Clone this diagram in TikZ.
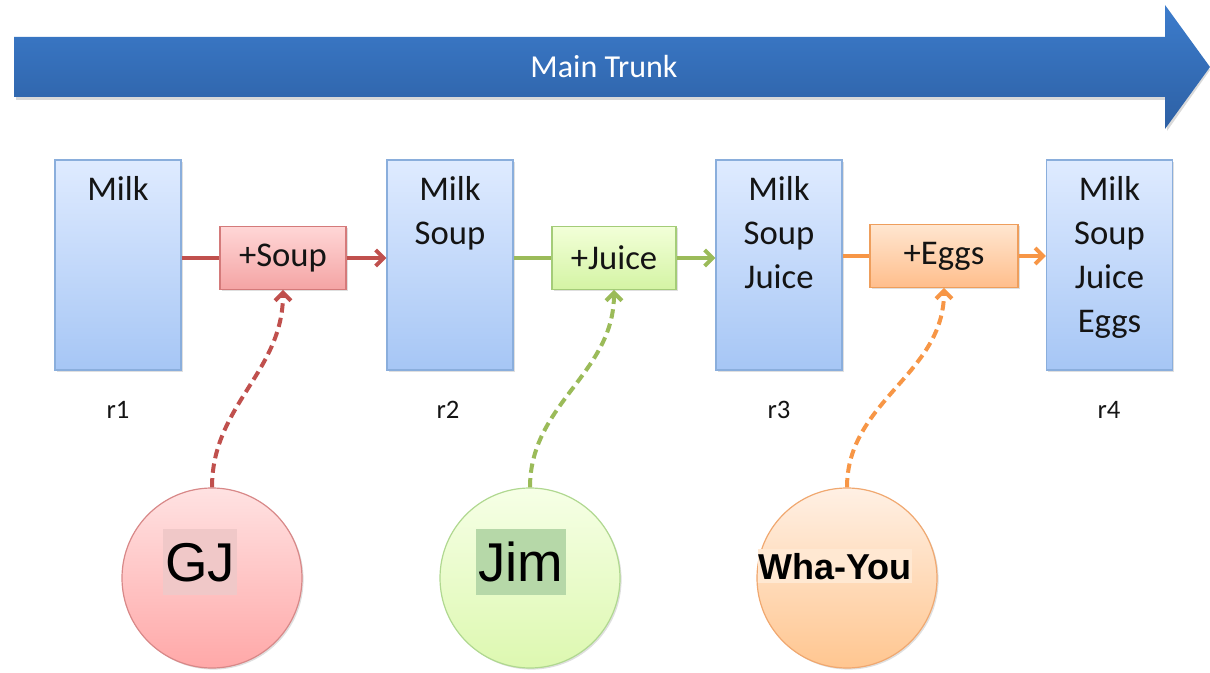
\documentclass[tikz,border=0pt]{standalone}
\usepackage{fontspec}
\setmainfont{Carlito}
\newfontfamily\arialfont{Liberation Sans}
\usetikzlibrary{arrows.meta,shadows}
\definecolor{trunkA}{HTML}{3C7CCC}
\definecolor{trunkB}{HTML}{2D60A4}
\definecolor{boxTop}{HTML}{DFEBFF}
\definecolor{boxBot}{HTML}{A6C6F5}
\definecolor{boxBd}{HTML}{8AAEDC}
\definecolor{redTop}{HTML}{FFD6D6}
\definecolor{redBot}{HTML}{F4A4A4}
\definecolor{redBd}{HTML}{D47A7A}
\definecolor{grnTop}{HTML}{F2FFD8}
\definecolor{grnBot}{HTML}{D4F4A4}
\definecolor{grnBd}{HTML}{A4CC78}
\definecolor{orgTop}{HTML}{FFE6D0}
\definecolor{orgBot}{HTML}{FFBE8C}
\definecolor{orgBd}{HTML}{EE9E5C}
\definecolor{redC}{HTML}{C0504D}
\definecolor{grnC}{HTML}{9BBB59}
\definecolor{orgC}{HTML}{F79646}
\definecolor{rcTop}{HTML}{FFE2E2}
\definecolor{rcBot}{HTML}{FFA8A8}
\definecolor{rcBd}{HTML}{D88888}
\definecolor{gcTop}{HTML}{F6FFE6}
\definecolor{gcBot}{HTML}{DDF8B0}
\definecolor{gcBd}{HTML}{B0D890}
\definecolor{ocTop}{HTML}{FFF0E4}
\definecolor{ocBot}{HTML}{FFC690}
\definecolor{ocBd}{HTML}{F0A870}
\definecolor{gjBg}{HTML}{F0C8C8}
\definecolor{jimBg}{HTML}{B6D8A8}
\definecolor{whaBg}{HTML}{FFE8D2}
\definecolor{ink}{HTML}{141414}
\tikzset{
  shad/.style={drop shadow={opacity=0.25,shadow xshift=1.2pt,shadow yshift=-1.2pt}},
  bluebox/.style={draw=boxBd,line width=0.8pt,top color=boxTop,bottom color=boxBot,
    minimum width=94.5pt,minimum height=157.5pt,inner sep=0pt,shad},
  boxtext/.style={font=\fontsize{26}{33}\selectfont,text=ink,align=center,inner sep=0pt,anchor=north},
  smallbox/.style={line width=0.8pt,minimum height=47pt,inner sep=0pt,
    font=\fontsize{26}{30}\selectfont,text=ink,shad},
  redbox/.style={smallbox,draw=redBd,top color=redTop,bottom color=redBot},
  grnbox/.style={smallbox,draw=grnBd,top color=grnTop,bottom color=grnBot},
  orgbox/.style={smallbox,draw=orgBd,top color=orgTop,bottom color=orgBot},
  rlabel/.style={font=\fontsize{20}{22}\selectfont,text=ink,inner sep=0pt},
  tip/.style={-{Straight Barb[length=6pt,width=12pt]}},
  conn/.style={line width=3pt},
  dconn/.style={line width=3pt,dash pattern=on 7pt off 4pt,tip},
  person/.style={circle,minimum size=135pt,line width=0.9pt,inner sep=0pt,shad},
  ptext/.style={font=\arialfont\fontsize{41}{44}\selectfont,inner sep=0pt,text depth=0pt},
}
\begin{document}
\begin{tikzpicture}[x=0.75pt,y=-0.75pt]
\useasboundingbox (0,0) rectangle (1210,673);
% main trunk arrow
\fill[black,opacity=0.15] (16,40) -- (1167,40) -- (1167,8) -- (1210,70) -- (1167,131) -- (1167,100) -- (16,100) -- cycle;
\shade[top color=trunkA,bottom color=trunkB] (14,37) -- (1165,37) -- (1165,5) -- (1210,67) -- (1165,129) -- (1165,97) -- (14,97) -- cycle;
\node[font=\fontsize{24}{28}\selectfont,text=white,inner sep=0pt] (trunk) at (604,67) {Main Trunk};
% revision boxes
\node[bluebox] (b1) at (118,265) {};
\node[bluebox] (b2) at (450,265) {};
\node[bluebox] (b3) at (779,265) {};
\node[bluebox] (b4) at (1109.5,265) {};
\node[boxtext] (t1) at (118,176) {Milk};
\node[boxtext] (t2) at (450,176) {Milk\\Soup};
\node[boxtext] (t3) at (779,176) {Milk\\Soup\\Juice};
\node[boxtext] (t4) at (1109.5,176) {Milk\\Soup\\Juice\\Eggs};
% labels
\node[rlabel] (r1) at (118,410) {r1};
\node[rlabel] (r2) at (448,410) {r2};
\node[rlabel] (r3) at (779,410) {r3};
\node[rlabel] (r4) at (1109,410) {r4};
% change boxes
\node[redbox,minimum width=94.5pt] (s1) at (283,258) {+Soup};
\node[grnbox,minimum width=93pt] (s2) at (614,258) {+Juice};
\node[orgbox,minimum width=111pt] (s3) at (944,256) {+Eggs};
% connectors
\draw[conn,redC] (b1.east |- s1.west) -- (s1.west);
\draw[conn,redC,tip] (s1.east) -- (b2.west |- s1.east);
\draw[conn,grnC] (b2.east |- s2.west) -- (s2.west);
\draw[conn,grnC,tip] (s2.east) -- (b3.west |- s2.east);
\draw[conn,orgC] (b3.east |- s3.west) -- (s3.west);
\draw[conn,orgC,tip] (s3.east) -- (b4.west |- s3.east);
% people
\node[person,draw=rcBd,top color=rcTop,bottom color=rcBot] (c1) at (212,578) {};
\node[person,draw=gcBd,top color=gcTop,bottom color=gcBot] (c2) at (530,578) {};
\node[person,draw=ocBd,top color=ocTop,bottom color=ocBot] (c3) at (847,578) {};
\draw[dconn,redC] (c1.north) to[out=90,in=-90] (s1.south);
\draw[dconn,grnC] (c2.north) to[out=90,in=-90] (s2.south);
\draw[dconn,orgC] (c3.north) to[out=90,in=-90] (s3.south);
\node[ptext,fill=gjBg,minimum width=55pt,minimum height=49pt] (n1) at (200,562) {GJ};
\node[ptext,fill=jimBg,minimum width=67pt,minimum height=49pt] (n2) at (521,562) {Jim};
\node[ptext,font=\arialfont\bfseries\fontsize{27}{29}\selectfont,fill=whaBg,minimum width=116pt,minimum height=26pt] (n3) at (835,566) {Wha-You};
\end{tikzpicture}
\end{document}
